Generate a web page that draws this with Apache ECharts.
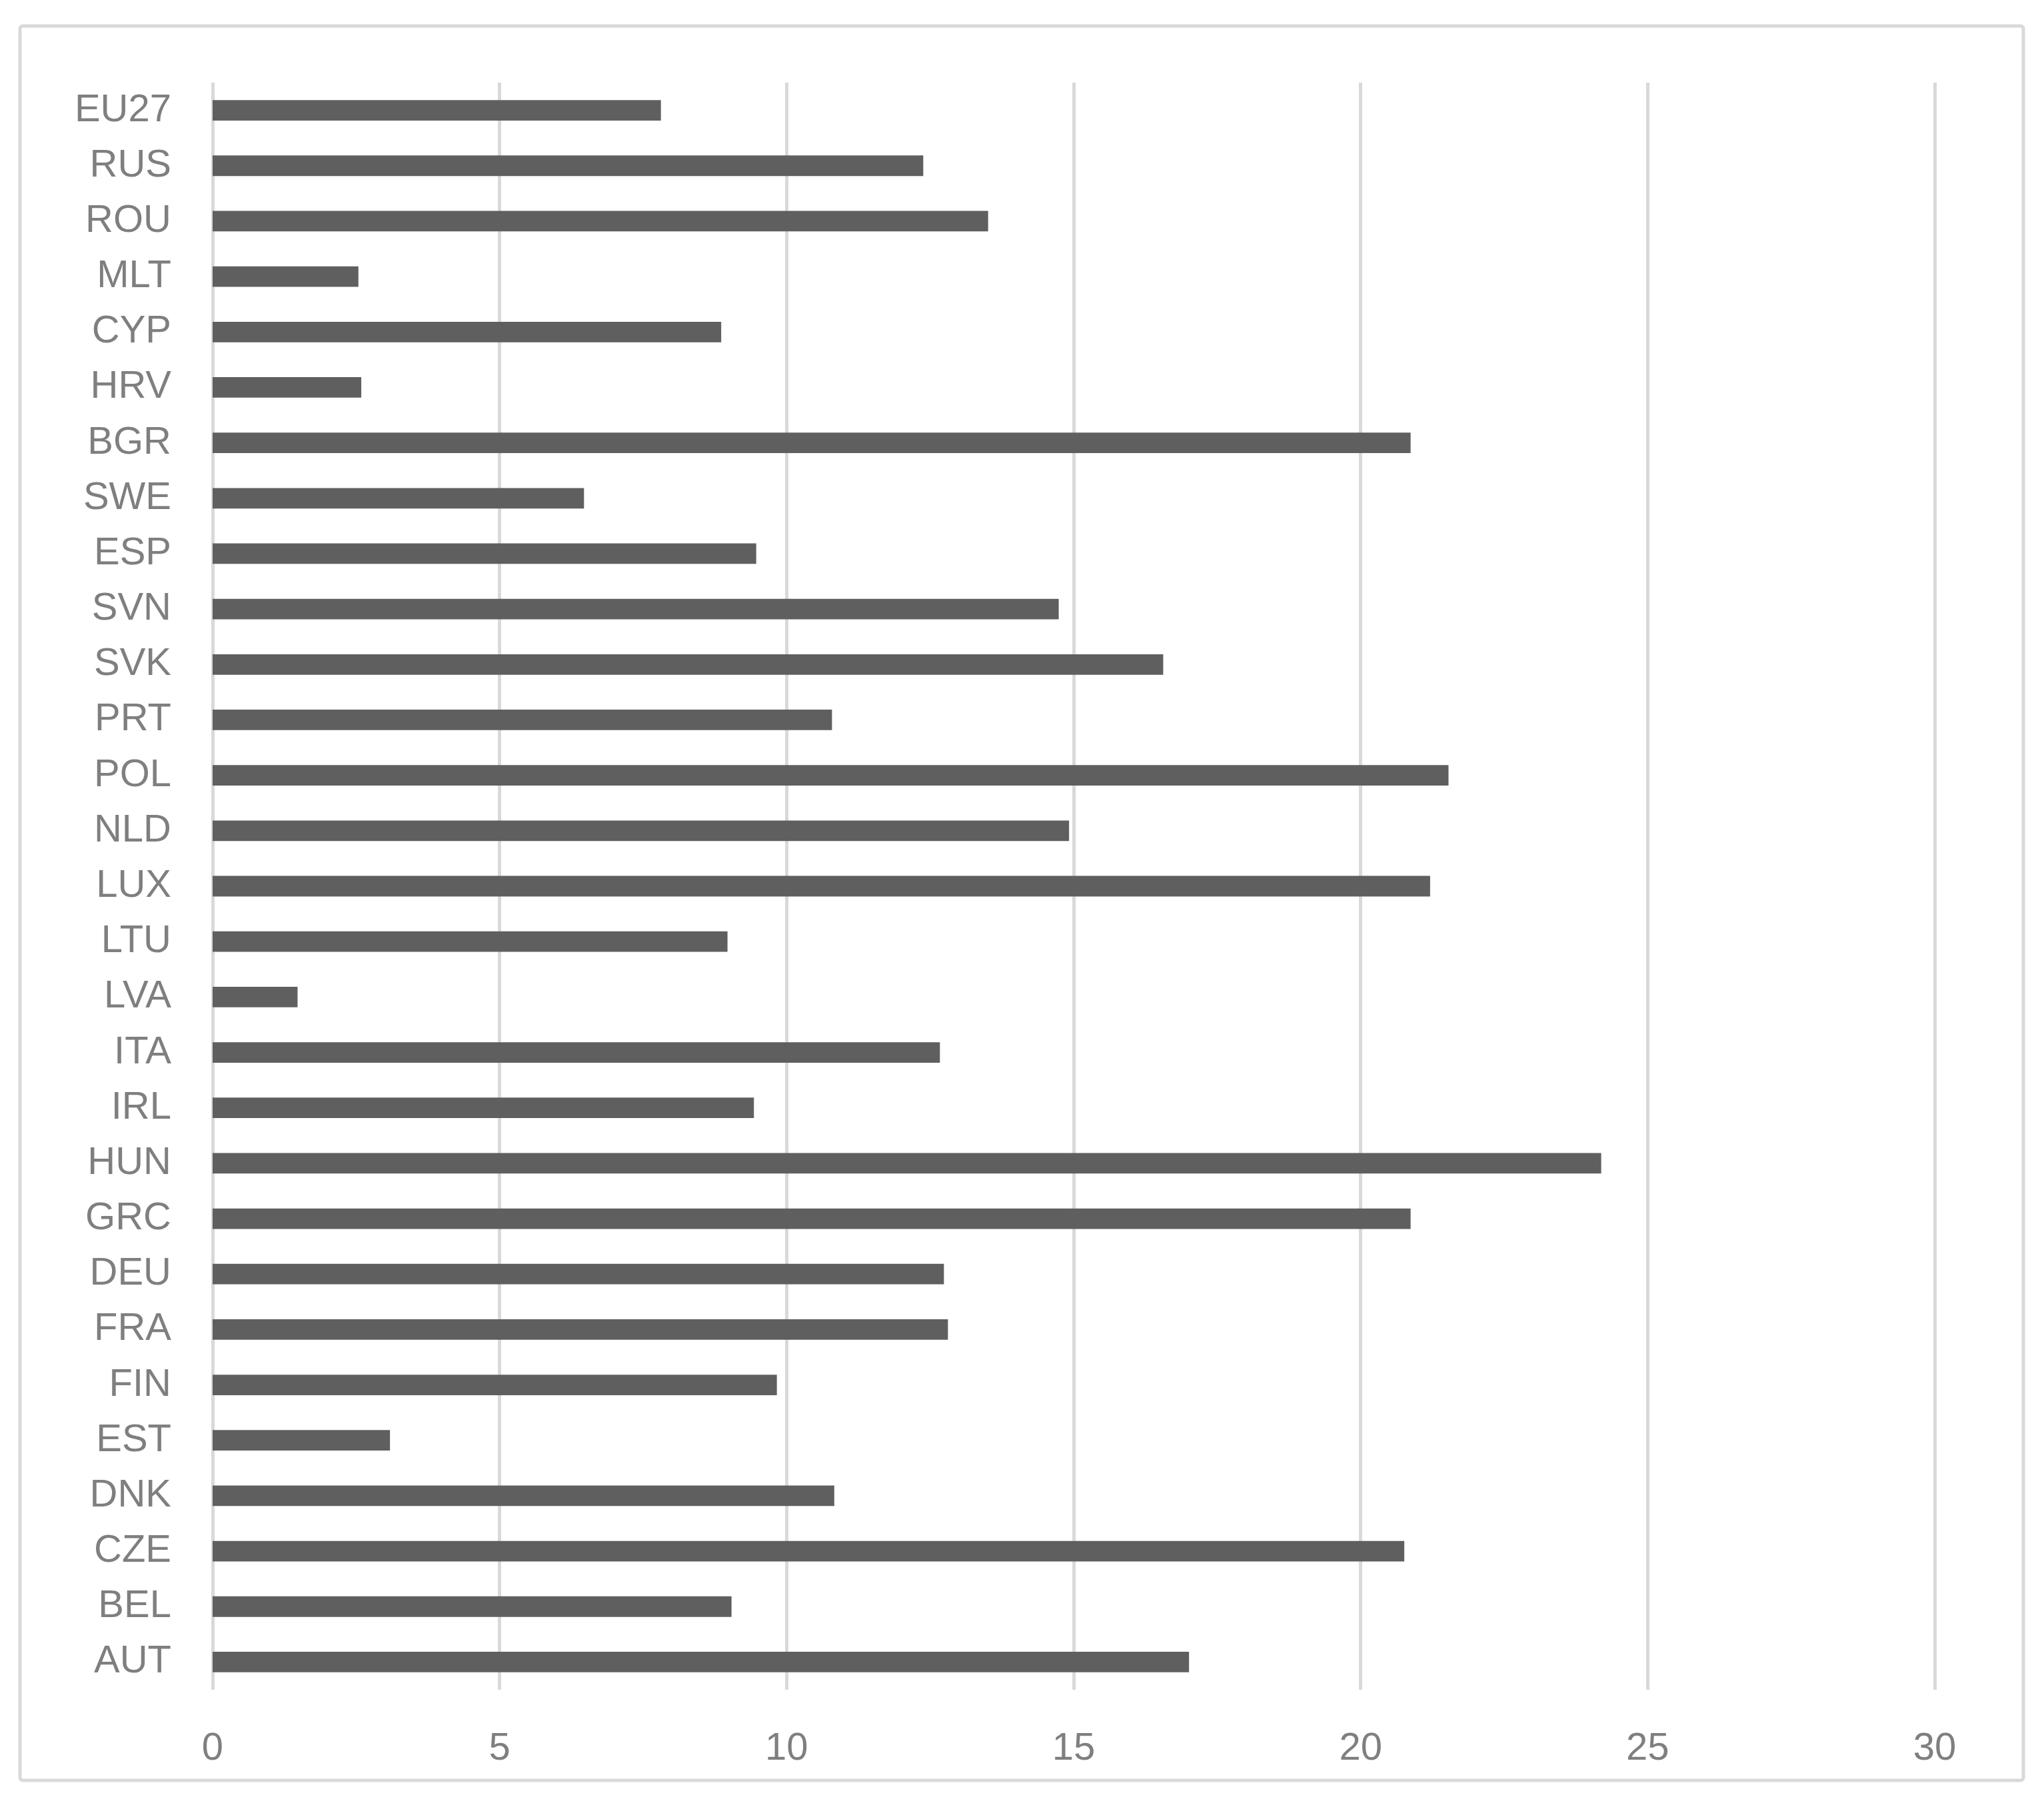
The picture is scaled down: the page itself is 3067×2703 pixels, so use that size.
<!DOCTYPE html>
<html>
<head>
<meta charset="utf-8">
<script src="https://cdn.jsdelivr.net/npm/echarts@6/dist/echarts.min.js"></script>
<style>
  html, body { margin: 0; padding: 0; background: #fff; }
  #main { width: 3067px; height: 2703px; }
</style>
</head>
<body>
<div id="main"></div>
<script>
// categories bottom -> top (first one sits at the bottom of a category y axis)
const countries = [
  "AUT", "BEL", "CZE", "DNK", "EST", "FIN", "FRA", "DEU", "GRC", "HUN",
  "IRL", "ITA", "LVA", "LTU", "LUX", "NLD", "POL", "PRT", "SVK", "SVN",
  "ESP", "SWE", "BGR", "HRV", "CYP", "MLT", "ROU", "RUS", "EU27"
];
const values = [
  17.01, 9.04, 20.76, 10.83, 3.09, 9.83, 12.81, 12.74, 20.87, 24.19,
  9.43, 12.67, 1.48, 8.97, 21.21, 14.92, 21.53, 10.79, 16.56, 14.74,
  9.47, 6.47, 20.87, 2.59, 8.86, 2.54, 13.51, 12.38, 7.81
];
const xTicks = { min: 0, max: 30, interval: 5 };

const labelFont = {
  color: "#7f7f7f",
  fontFamily: "Liberation Sans Narrow, Liberation Sans, sans-serif",
  fontSize: 58,
};

const option = {
  animation: false,
  backgroundColor: "#fff",
  graphic: [
    {
      type: "rect",
      shape: { x: 30, y: 39, width: 3006, height: 2633, r: 4 },
      style: { fill: "none", stroke: "#d9d9d9", lineWidth: 5 },
      silent: true,
    },
  ],
  grid: {
    left: 319,
    right: 164,
    top: 124,
    bottom: 167,
  },
  xAxis: {
    type: "value",
    min: xTicks.min,
    max: xTicks.max,
    interval: xTicks.interval,
    axisLine: { show: false },
    axisTick: { show: false },
    axisLabel: { ...labelFont, margin: 60 },
    splitLine: { lineStyle: { color: "#d9d9d9", width: 5 } },
  },
  yAxis: {
    type: "category",
    data: countries,
    axisLine: { show: false },
    axisTick: { show: false },
    axisLabel: { ...labelFont, margin: 62 },
    splitLine: { show: false },
  },
  series: [
    {
      type: "bar",
      data: values,
      barWidth: "37%",
      itemStyle: { color: "#5f5f5f" },
    },
  ],
};

const chart = echarts.init(document.getElementById("main"));
chart.setOption(option);
</script>
</body>
</html>
